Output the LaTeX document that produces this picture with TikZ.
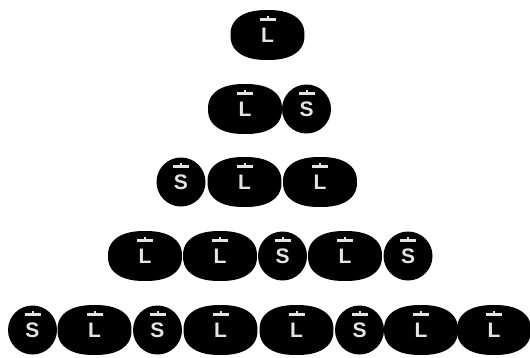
\documentclass[tikz,border=0pt]{standalone}
\usepackage{fontspec}
\setmainfont{Liberation Sans}
\usetikzlibrary{backgrounds}
\definecolor{inkw}{HTML}{E4E4E4}
\begin{document}
\begin{tikzpicture}[x=1pt,y=-1pt,
  tok/.style={text=inkw, inner sep=0pt, draw=none,
    font=\fontsize{21}{21}\selectfont\bfseries},
  ltok/.style={tok, rectangle, minimum width=74pt, minimum height=50pt},
  stok/.style={tok, circle, fill=black, minimum size=49pt},
  blob/.style={fill=black}]
\useasboundingbox (0,0) rectangle (530,357);
% row 1
\node[ltok] (r1a) at (267.5,35) {L};
% row 2
\node[ltok] (r2a) at (245,109) {L};
\node[stok] (r2b) at (306.5,109) {S};
% row 3
\node[stok] (r3a) at (181,182) {S};
\node[ltok] (r3b) at (244.5,182) {L};
\node[ltok] (r3c) at (320,182) {L};
% row 4
\node[ltok] (r4a) at (145,256) {L};
\node[ltok] (r4b) at (220,256) {L};
\node[stok] (r4c) at (282.5,256) {S};
\node[ltok] (r4d) at (345,256) {L};
\node[stok] (r4e) at (408,256) {S};
% row 5
\node[stok] (r5a) at (32.5,330) {S};
\node[ltok] (r5b) at (94.5,330) {L};
\node[stok] (r5c) at (157.5,330) {S};
\node[ltok] (r5d) at (220.5,330) {L};
\node[ltok] (r5e) at (296.5,330) {L};
\node[stok] (r5f) at (359.5,330) {S};
\node[ltok] (r5g) at (421,330) {L};
\node[ltok] (r5h) at (494,330) {L};
% oval bodies of the L tokens
\begin{pgfonlayer}{background}
\foreach \n in {r1a,r2a,r3b,r3c,r4a,r4b,r4d,r5b,r5d,r5e,r5g,r5h}{
  \fill[blob, shift={(\n.center)}] plot[domain=1:361, samples=73, variable=\t]
    ({37*cos(\t)/abs(cos(\t))^(0.15)}, {25*sin(\t)/abs(sin(\t))^(0.15)}) -- cycle;
}
\end{pgfonlayer}
% bars above the letters
\foreach \n in {r1a,r2a,r2b,r3a,r3b,r3c,r4a,r4b,r4c,r4d,r4e,r5a,r5b,r5c,r5d,r5e,r5f,r5g,r5h}{
  \fill[inkw, shift={(\n.center)}] (-8,-17.5) rectangle (8,-14.5);
  \fill[inkw, shift={(\n.center)}] (-1,-19.5) rectangle (1,-17.5);
}
\end{tikzpicture}
\end{document}
